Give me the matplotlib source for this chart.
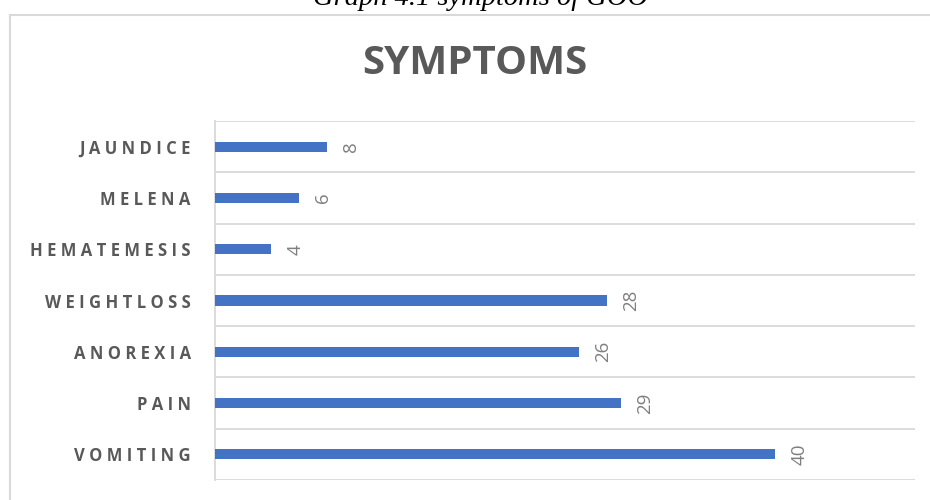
import matplotlib.pyplot as plt
from matplotlib.lines import Line2D

categories = ["VOMITING", "PAIN", "ANOREXIA", "WEIGHTLOSS", "HEMATEMESIS", "MELENA", "JAUNDICE"]
counts = [40, 29, 26, 28, 4, 6, 8]
title = "SYMPTOMS"
caption = "Graph 4.1 symptoms of GOO"

plt.rcParams["font.family"] = ["Open Sans", "DejaVu Sans"]

fig = plt.figure(figsize=(9.3, 5), dpi=100)
ax = fig.add_axes([215 / 930, 1 - 480 / 500, 700 / 930, 359 / 500])

y = range(len(categories))
ax.barh(y, counts, height=0.2, color="#4472C4", zorder=3)
ax.set_xlim(0, 50)
ax.set_ylim(-0.5, len(categories) - 0.5)

for i in range(len(categories) + 1):
    ax.axhline(i - 0.5, color="#d9d9d9", lw=1.3, zorder=1)

for i, v in enumerate(counts):
    ax.text(v + 1.1, i, str(v), rotation=90, ha="left", va="center",
            fontsize=13.5, color="#7f7f7f")

ax.set_xticks([])
ax.set_yticks(list(y))
spaced = [" ".join(c) for c in categories]
ax.set_yticklabels(spaced, fontsize=12, fontweight="bold", color="#595959")
ax.tick_params(axis="y", length=0, pad=17.5)
for s in ["top", "right", "bottom"]:
    ax.spines[s].set_visible(False)
ax.spines["left"].set_color("#d9d9d9")
ax.spines["left"].set_linewidth(1.3)

fig.text(475 / 930, 1 - 63 / 500, title, ha="center", va="center",
         fontsize=29, fontweight="bold", color="#595959")

# outer chart border (partly off the page)
fig.add_artist(Line2D([10 / 930, 10 / 930], [0, 1 - 15 / 500],
                      transform=fig.transFigure, color="#d9d9d9", lw=1.5))
fig.add_artist(Line2D([10 / 930, 1], [1 - 15 / 500, 1 - 15 / 500],
                      transform=fig.transFigure, color="#d9d9d9", lw=1.5))

# caption cut off at the top, as in the source page
fig.text(481 / 930, 1 - 5 / 500, caption, ha="center", va="baseline",
         fontsize=20.5, style="italic", color="black",
         family=["Liberation Serif", "DejaVu Serif"])

fig.savefig("out.png", dpi=100)
